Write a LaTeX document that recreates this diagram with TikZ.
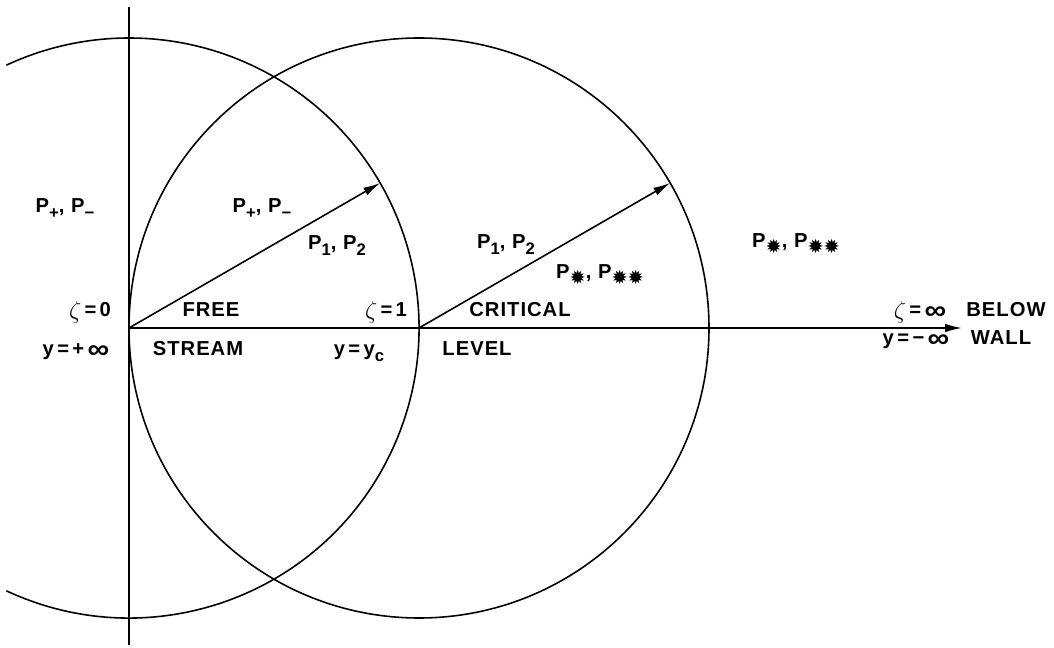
\documentclass[tikz,border=0pt]{standalone}
\usepackage{fontspec}
\setmainfont{Liberation Sans}[LetterSpace=5]
\newfontfamily\symfont{DejaVu Sans}
\usepackage{tikz}
\usetikzlibrary{arrows.meta, calc}
\newcommand{\dn}[1]{\raisebox{-0.55ex}{\fontsize{9.5}{9.5}\selectfont #1}}
\newcommand{\stp}{\dn{\symfont\fontsize{11}{11}\selectfont\char"2739}}
\newcommand{\inft}{\raisebox{-0.2ex}{\scalebox{1.5}[1.35]{∞}}}
\newcommand{\zt}{\raisebox{-0.1ex}{\scalebox{1.15}{$\zeta$}}}

\begin{document}
\begin{tikzpicture}[x=0.02cm, y=0.02cm, >={Latex[length=3.4mm,width=1.7mm]},
    line/.style={line width=0.9pt},
    lbl/.style={font=\bfseries\fontsize{11.5}{12}\selectfont, anchor=base, inner sep=0pt}]
  \useasboundingbox (-129,-320) rectangle (925,328);
  % Points on the axis
  \coordinate (z0) at (0,0);
  \coordinate (z1) at (290,0);
  \coordinate (zinf) at (833,0);
  \coordinate (top) at (0,321);
  \coordinate (bot) at (0,-317);
  \coordinate (r0) at ($(z0)+(30:290)$);
  \coordinate (r1) at ($(z1)+(30:290)$);
  % Circles
  \draw[line] (z0) ++(-115:290) arc[start angle=-115, end angle=115, radius=290];
  \draw[line] (z1) circle (290);
  % Axes
  \draw[line] (bot) -- (top);
  \draw[line, ->] (z0) -- (zinf);
  % Radii
  \draw[line, ->] (z0) -- (r0);
  \draw[line, ->] (z1) -- (r1);
  % Labels above the axis
  \node[lbl] (pl) at (-64,115) {P\dn{+}, P\dn{−}};
  \node[lbl] (pm) at (133,115) {P\dn{+}, P\dn{−}};
  \node[lbl] (p12a) at (208,78) {P\dn{1}, P\dn{2}};
  \node[lbl] (p12b) at (377,79) {P\dn{1}, P\dn{2}};
  \node[lbl] (psa) at (471,49) {P\stp, P\stp\stp};
  \node[lbl] (psb) at (667,80) {P\stp, P\stp\stp};
  \node[lbl] (zeta0) at (-39,11) {\zt\,=\,0};
  \node[lbl] (free) at (82,11) {FREE};
  \node[lbl] (zeta1) at (257,11) {\zt\,=\,1};
  \node[lbl] (crit) at (391,11) {CRITICAL};
  \node[lbl] (zetainf) at (791,11) {\zt\,=\,\inft};
  \node[lbl] (below) at (877,11) {BELOW};
  % Labels below the axis
  \node[lbl] (yplus) at (-53,-28) {y\,=\,+\,\inft};
  \node[lbl] (stream) at (69,-28) {STREAM};
  \node[lbl] (yc) at (230,-28) {y\,=\,y\dn{c}};
  \node[lbl] (level) at (348,-28) {LEVEL};
  \node[lbl] (yminus) at (787,-17) {y\,=\,−\,\inft};
  \node[lbl] (wall) at (872,-17) {WALL};
\end{tikzpicture}
\end{document}
